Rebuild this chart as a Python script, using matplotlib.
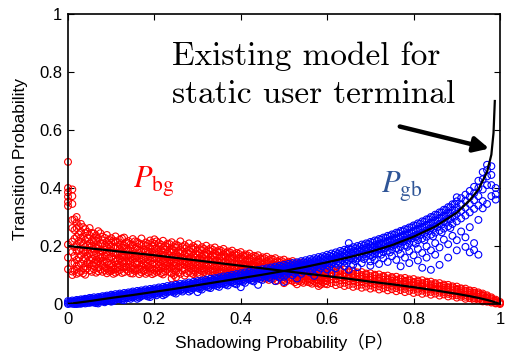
import matplotlib
matplotlib.use('Agg')
import matplotlib.pyplot as plt
import numpy as np

# measured P_bg samples, grouped by shadowing probability
pbg_cols = [
    (0.00, [0.490, 0.400, 0.385, 0.370, 0.352, 0.338, 0.205, 0.160, 0.120]),
    (0.01, [0.395, 0.372, 0.345, 0.290, 0.262, 0.215, 0.180, 0.140, 0.112, 0.100]),
    (0.02, [0.300, 0.281, 0.262, 0.231, 0.204, 0.183, 0.152, 0.131, 0.121, 0.104]),
    (0.03, [0.276, 0.249, 0.229, 0.214, 0.191, 0.168, 0.139, 0.112]),
    (0.04, [0.258, 0.244, 0.220, 0.197, 0.179, 0.158, 0.129, 0.118, 0.101]),
    (0.05, [0.262, 0.236, 0.209, 0.195, 0.173, 0.151, 0.138, 0.116]),
    (0.06, [0.243, 0.228, 0.214, 0.188, 0.169, 0.142, 0.131, 0.120]),
    (0.07, [0.251, 0.226, 0.203, 0.191, 0.164, 0.146, 0.125, 0.113]),
    (0.08, [0.232, 0.219, 0.207, 0.182, 0.161, 0.149, 0.133, 0.111]),
    (0.09, [0.238, 0.214, 0.196, 0.178, 0.170, 0.143, 0.122, 0.106]),
    (0.10, [0.227, 0.211, 0.199, 0.184, 0.163, 0.139, 0.127, 0.114]),
    (0.11, [0.233, 0.216, 0.192, 0.175, 0.157, 0.146, 0.121, 0.108]),
    (0.12, [0.222, 0.205, 0.188, 0.179, 0.154, 0.134, 0.117]),
    (0.13, [0.229, 0.201, 0.193, 0.171, 0.160, 0.141, 0.125, 0.110]),
    (0.14, [0.217, 0.209, 0.185, 0.167, 0.150, 0.136, 0.113]),
    (0.15, [0.224, 0.203, 0.181, 0.173, 0.155, 0.130, 0.119, 0.105]),
    (0.16, [0.214, 0.197, 0.187, 0.164, 0.147, 0.138, 0.116]),
    (0.17, [0.226, 0.206, 0.179, 0.169, 0.152, 0.128, 0.109]),
    (0.18, [0.212, 0.200, 0.183, 0.161, 0.144, 0.133, 0.120, 0.104]),
    (0.19, [0.219, 0.194, 0.176, 0.166, 0.149, 0.125, 0.112]),
    (0.20, [0.223, 0.207, 0.189, 0.171, 0.157, 0.140, 0.118, 0.107]),
    (0.21, [0.210, 0.198, 0.181, 0.163, 0.146, 0.131, 0.115]),
    (0.22, [0.218, 0.192, 0.177, 0.168, 0.151, 0.127, 0.110, 0.102]),
    (0.23, [0.208, 0.196, 0.174, 0.159, 0.143, 0.135, 0.119]),
    (0.24, [0.213, 0.189, 0.180, 0.162, 0.148, 0.126, 0.106, 0.088]),
    (0.25, [0.205, 0.194, 0.171, 0.155, 0.139, 0.122, 0.113, 0.092]),
    (0.26, [0.216, 0.186, 0.176, 0.160, 0.145, 0.130, 0.104]),
    (0.27, [0.203, 0.191, 0.169, 0.152, 0.136, 0.120, 0.098]),
    (0.28, [0.209, 0.184, 0.173, 0.157, 0.141, 0.127, 0.111]),
    (0.29, [0.200, 0.188, 0.166, 0.150, 0.134, 0.116, 0.103]),
    (0.30, [0.206, 0.181, 0.170, 0.154, 0.138, 0.124, 0.108, 0.097]),
    (0.31, [0.196, 0.185, 0.163, 0.147, 0.131, 0.114]),
    (0.32, [0.201, 0.177, 0.167, 0.151, 0.136, 0.121, 0.105]),
    (0.33, [0.192, 0.182, 0.160, 0.144, 0.129, 0.112]),
    (0.34, [0.195, 0.174, 0.163, 0.148, 0.133, 0.118, 0.101]),
    (0.35, [0.186, 0.178, 0.157, 0.141, 0.126, 0.109]),
    (0.36, [0.190, 0.170, 0.160, 0.145, 0.130, 0.115, 0.100]),
    (0.37, [0.181, 0.173, 0.154, 0.138, 0.123, 0.107]),
    (0.38, [0.184, 0.166, 0.156, 0.142, 0.127, 0.112, 0.098]),
    (0.39, [0.176, 0.168, 0.150, 0.135, 0.120, 0.104]),
    (0.40, [0.179, 0.161, 0.152, 0.138, 0.124, 0.109, 0.096]),
    (0.41, [0.171, 0.163, 0.146, 0.131, 0.117, 0.101]),
    (0.42, [0.174, 0.156, 0.148, 0.134, 0.120, 0.106, 0.094]),
    (0.43, [0.166, 0.158, 0.142, 0.128, 0.114, 0.099]),
    (0.44, [0.168, 0.151, 0.144, 0.130, 0.117, 0.103, 0.091]),
    (0.45, [0.161, 0.153, 0.138, 0.124, 0.111, 0.096]),
    (0.46, [0.163, 0.147, 0.139, 0.126, 0.113, 0.100, 0.088]),
    (0.47, [0.156, 0.148, 0.134, 0.121, 0.108, 0.093]),
    (0.48, [0.158, 0.142, 0.135, 0.122, 0.110, 0.097, 0.079]),
    (0.49, [0.151, 0.143, 0.130, 0.117, 0.105, 0.090]),
    (0.50, [0.153, 0.138, 0.131, 0.119, 0.106, 0.094, 0.083, 0.072]),
    (0.51, [0.146, 0.139, 0.126, 0.114, 0.101, 0.087]),
    (0.52, [0.148, 0.133, 0.127, 0.115, 0.103, 0.091, 0.080]),
    (0.53, [0.141, 0.135, 0.122, 0.110, 0.098, 0.084, 0.068]),
    (0.54, [0.143, 0.129, 0.123, 0.111, 0.100, 0.088, 0.077]),
    (0.55, [0.136, 0.130, 0.118, 0.107, 0.095, 0.081]),
    (0.56, [0.138, 0.124, 0.119, 0.108, 0.096, 0.085, 0.074]),
    (0.57, [0.131, 0.126, 0.114, 0.103, 0.092, 0.078]),
    (0.58, [0.133, 0.120, 0.115, 0.104, 0.093, 0.082, 0.071, 0.062]),
    (0.59, [0.127, 0.121, 0.110, 0.099, 0.088, 0.075]),
    (0.60, [0.128, 0.116, 0.111, 0.100, 0.090, 0.079, 0.068]),
    (0.61, [0.122, 0.117, 0.106, 0.096, 0.085, 0.072]),
    (0.62, [0.124, 0.112, 0.107, 0.097, 0.086, 0.076, 0.065]),
    (0.63, [0.118, 0.113, 0.102, 0.092, 0.082, 0.069]),
    (0.64, [0.119, 0.108, 0.103, 0.093, 0.083, 0.073, 0.062]),
    (0.65, [0.113, 0.109, 0.098, 0.089, 0.079, 0.066]),
    (0.66, [0.115, 0.104, 0.099, 0.089, 0.080, 0.070, 0.059]),
    (0.67, [0.109, 0.105, 0.094, 0.085, 0.076, 0.063]),
    (0.68, [0.110, 0.100, 0.095, 0.086, 0.076, 0.067, 0.056]),
    (0.69, [0.105, 0.101, 0.091, 0.082, 0.073, 0.060]),
    (0.70, [0.106, 0.096, 0.091, 0.082, 0.073, 0.064, 0.053]),
    (0.71, [0.101, 0.097, 0.087, 0.078, 0.069, 0.057]),
    (0.72, [0.102, 0.092, 0.088, 0.079, 0.070, 0.061, 0.050]),
    (0.73, [0.097, 0.093, 0.083, 0.075, 0.066, 0.054]),
    (0.74, [0.098, 0.088, 0.084, 0.075, 0.067, 0.058, 0.047]),
    (0.75, [0.093, 0.089, 0.080, 0.072, 0.063, 0.051]),
    (0.76, [0.094, 0.084, 0.080, 0.072, 0.063, 0.055, 0.044]),
    (0.77, [0.089, 0.085, 0.076, 0.068, 0.060, 0.048]),
    (0.78, [0.090, 0.080, 0.076, 0.068, 0.060, 0.052, 0.041]),
    (0.79, [0.085, 0.081, 0.072, 0.065, 0.057, 0.045]),
    (0.80, [0.086, 0.076, 0.072, 0.065, 0.057, 0.049, 0.038]),
    (0.81, [0.081, 0.077, 0.069, 0.061, 0.053, 0.042]),
    (0.82, [0.082, 0.072, 0.068, 0.061, 0.053, 0.046, 0.035]),
    (0.83, [0.077, 0.073, 0.065, 0.057, 0.050, 0.039]),
    (0.84, [0.077, 0.068, 0.064, 0.057, 0.050, 0.042, 0.032]),
    (0.85, [0.072, 0.068, 0.060, 0.053, 0.046, 0.036]),
    (0.86, [0.072, 0.063, 0.060, 0.053, 0.046, 0.039, 0.029]),
    (0.87, [0.067, 0.063, 0.056, 0.049, 0.042, 0.033]),
    (0.88, [0.066, 0.058, 0.055, 0.048, 0.041, 0.035, 0.026]),
    (0.89, [0.061, 0.057, 0.050, 0.044, 0.037, 0.029]),
    (0.90, [0.060, 0.052, 0.049, 0.043, 0.036, 0.030, 0.022]),
    (0.91, [0.054, 0.051, 0.044, 0.038, 0.032, 0.025]),
    (0.92, [0.053, 0.046, 0.043, 0.037, 0.031, 0.025, 0.018]),
    (0.93, [0.047, 0.044, 0.038, 0.032, 0.026, 0.020]),
    (0.94, [0.045, 0.039, 0.036, 0.030, 0.025, 0.020, 0.014]),
    (0.95, [0.040, 0.036, 0.031, 0.025, 0.020, 0.015]),
    (0.96, [0.036, 0.031, 0.028, 0.023, 0.018, 0.013, 0.009]),
    (0.97, [0.030, 0.026, 0.021, 0.017, 0.012, 0.008]),
    (0.98, [0.023, 0.019, 0.016, 0.012, 0.008, 0.005]),
    (0.99, [0.015, 0.011, 0.008, 0.004, 0.002]),
    (1.00, [0.007, 0.003, 0.000]),
]

# second batch of P_bg runs (in between the first)
pbg_cols_b = [
    (0.015, [0.292, 0.255, 0.225, 0.196, 0.166, 0.141, 0.115]),
    (0.025, [0.268, 0.240, 0.218, 0.186, 0.160, 0.135, 0.108]),
    (0.035, [0.265, 0.232, 0.206, 0.184, 0.154, 0.124, 0.106]),
    (0.045, [0.249, 0.228, 0.203, 0.185, 0.166, 0.144, 0.123]),
    (0.055, [0.245, 0.219, 0.200, 0.178, 0.157, 0.134, 0.111]),
    (0.065, [0.236, 0.218, 0.195, 0.175, 0.153, 0.137, 0.108]),
    (0.075, [0.244, 0.209, 0.186, 0.170, 0.158, 0.140, 0.119]),
    (0.085, [0.228, 0.203, 0.187, 0.166, 0.145, 0.127, 0.116]),
    (0.095, [0.221, 0.204, 0.181, 0.157, 0.136, 0.118, 0.112]),
    (0.105, [0.219, 0.195, 0.176, 0.155, 0.131, 0.120, 0.104]),
    (0.115, [0.214, 0.197, 0.170, 0.150, 0.138, 0.126, 0.113]),
    (0.125, [0.226, 0.194, 0.173, 0.163, 0.145, 0.127, 0.107]),
    (0.135, [0.213, 0.189, 0.182, 0.164, 0.148, 0.129, 0.119]),
    (0.145, [0.206, 0.192, 0.171, 0.160, 0.143, 0.124, 0.106]),
    (0.155, [0.216, 0.190, 0.167, 0.159, 0.141, 0.122, 0.114]),
    (0.165, [0.209, 0.184, 0.177, 0.157, 0.140, 0.121, 0.103]),
    (0.175, [0.203, 0.187, 0.165, 0.154, 0.136, 0.117, 0.113]),
    (0.185, [0.207, 0.181, 0.173, 0.155, 0.138, 0.128, 0.109]),
    (0.195, [0.211, 0.199, 0.180, 0.160, 0.137, 0.121, 0.103]),
    (0.205, [0.216, 0.193, 0.174, 0.153, 0.136, 0.124, 0.111]),
    (0.215, [0.205, 0.185, 0.170, 0.156, 0.138, 0.122, 0.106]),
    (0.225, [0.201, 0.188, 0.165, 0.146, 0.131, 0.113]),
    (0.235, [0.207, 0.180, 0.168, 0.152, 0.140, 0.123, 0.110]),
    (0.245, [0.198, 0.184, 0.165, 0.144, 0.132, 0.117, 0.100]),
    (0.255, [0.201, 0.178, 0.163, 0.150, 0.128, 0.108]),
    (0.265, [0.197, 0.181, 0.160, 0.141, 0.124, 0.115]),
    (0.275, [0.196, 0.175, 0.162, 0.145, 0.131, 0.106]),
    (0.285, [0.193, 0.179, 0.158, 0.137, 0.121, 0.107]),
    (0.295, [0.194, 0.172, 0.160, 0.143, 0.126, 0.112]),
    (0.305, [0.189, 0.175, 0.156, 0.134, 0.117, 0.102]),
    (0.315, [0.190, 0.170, 0.154, 0.139, 0.122, 0.110]),
    (0.325, [0.185, 0.172, 0.152, 0.132, 0.115, 0.099]),
    (0.335, [0.187, 0.166, 0.151, 0.137, 0.120, 0.107]),
    (0.345, [0.181, 0.168, 0.149, 0.128, 0.112, 0.097]),
    (0.355, [0.183, 0.163, 0.147, 0.133, 0.117, 0.104]),
    (0.365, [0.176, 0.164, 0.145, 0.125, 0.109, 0.095]),
    (0.375, [0.178, 0.158, 0.143, 0.129, 0.114, 0.101]),
    (0.385, [0.171, 0.160, 0.141, 0.122, 0.107, 0.093]),
    (0.395, [0.173, 0.154, 0.139, 0.126, 0.111, 0.098]),
    (0.405, [0.166, 0.155, 0.137, 0.119, 0.104, 0.091]),
    (0.415, [0.168, 0.150, 0.135, 0.122, 0.108, 0.095]),
    (0.425, [0.161, 0.151, 0.133, 0.116, 0.101, 0.089]),
    (0.435, [0.163, 0.145, 0.131, 0.119, 0.105, 0.092]),
    (0.445, [0.156, 0.146, 0.129, 0.113, 0.099, 0.086]),
    (0.455, [0.158, 0.141, 0.128, 0.116, 0.102, 0.090]),
    (0.465, [0.151, 0.142, 0.125, 0.110, 0.096, 0.083]),
    (0.475, [0.153, 0.136, 0.124, 0.112, 0.099, 0.087]),
    (0.485, [0.146, 0.137, 0.121, 0.107, 0.093, 0.081]),
    (0.495, [0.148, 0.132, 0.120, 0.109, 0.096, 0.084]),
    (0.505, [0.141, 0.133, 0.117, 0.104, 0.090, 0.078]),
    (0.515, [0.143, 0.127, 0.116, 0.106, 0.093, 0.082]),
    (0.525, [0.137, 0.129, 0.113, 0.101, 0.088, 0.075]),
    (0.535, [0.138, 0.123, 0.112, 0.102, 0.090, 0.079]),
    (0.545, [0.132, 0.124, 0.109, 0.097, 0.085, 0.073]),
    (0.555, [0.134, 0.118, 0.108, 0.099, 0.087, 0.076]),
    (0.565, [0.127, 0.120, 0.105, 0.094, 0.082, 0.070]),
    (0.575, [0.129, 0.114, 0.104, 0.095, 0.084, 0.073]),
    (0.585, [0.123, 0.116, 0.101, 0.091, 0.079, 0.067]),
    (0.595, [0.124, 0.110, 0.100, 0.092, 0.081, 0.070]),
]

# measured P_gb samples
pgb_cols = [
    (0.00, [0.010, 0.004, 0.000]),
    (0.01, [0.012, 0.007, 0.001]),
    (0.02, [0.014, 0.009, 0.003, 0.000]),
    (0.03, [0.016, 0.011, 0.005, 0.001]),
    (0.04, [0.018, 0.012, 0.007, 0.002]),
    (0.05, [0.021, 0.015, 0.009, 0.004]),
    (0.06, [0.023, 0.017, 0.011, 0.005]),
    (0.07, [0.024, 0.019, 0.013, 0.007, 0.002]),
    (0.08, [0.027, 0.021, 0.015, 0.009]),
    (0.09, [0.029, 0.023, 0.017, 0.011]),
    (0.10, [0.032, 0.026, 0.019, 0.013, 0.008]),
    (0.11, [0.034, 0.027, 0.021, 0.015]),
    (0.12, [0.036, 0.030, 0.024, 0.017]),
    (0.13, [0.038, 0.031, 0.026, 0.019, 0.013]),
    (0.14, [0.040, 0.034, 0.028, 0.021]),
    (0.15, [0.043, 0.036, 0.030, 0.023]),
    (0.16, [0.045, 0.038, 0.032, 0.025, 0.018]),
    (0.17, [0.047, 0.041, 0.034, 0.027]),
    (0.18, [0.050, 0.043, 0.036, 0.029]),
    (0.19, [0.052, 0.045, 0.039, 0.031, 0.024]),
    (0.20, [0.054, 0.047, 0.041, 0.034]),
    (0.21, [0.057, 0.050, 0.043, 0.036]),
    (0.22, [0.059, 0.052, 0.045, 0.038, 0.030]),
    (0.23, [0.062, 0.054, 0.048, 0.040]),
    (0.24, [0.064, 0.057, 0.050, 0.043]),
    (0.25, [0.066, 0.059, 0.052, 0.045, 0.036]),
    (0.26, [0.069, 0.061, 0.055, 0.047]),
    (0.27, [0.071, 0.064, 0.057, 0.049]),
    (0.28, [0.074, 0.066, 0.059, 0.052, 0.043]),
    (0.29, [0.076, 0.069, 0.062, 0.054]),
    (0.30, [0.079, 0.071, 0.064, 0.056, 0.041]),
    (0.31, [0.081, 0.074, 0.066, 0.059, 0.050]),
    (0.32, [0.084, 0.076, 0.069, 0.061]),
    (0.33, [0.087, 0.079, 0.071, 0.063, 0.055]),
    (0.34, [0.089, 0.081, 0.074, 0.066]),
    (0.35, [0.092, 0.084, 0.076, 0.068, 0.059]),
    (0.36, [0.095, 0.087, 0.079, 0.071]),
    (0.37, [0.097, 0.089, 0.081, 0.073, 0.064]),
    (0.38, [0.100, 0.092, 0.084, 0.075]),
    (0.39, [0.103, 0.094, 0.086, 0.078, 0.068]),
    (0.40, [0.106, 0.097, 0.089, 0.080, 0.058]),
    (0.41, [0.109, 0.100, 0.091, 0.083, 0.073]),
    (0.42, [0.112, 0.103, 0.094, 0.085]),
    (0.43, [0.114, 0.105, 0.097, 0.088, 0.078]),
    (0.44, [0.117, 0.108, 0.099, 0.090, 0.066]),
    (0.45, [0.120, 0.111, 0.102, 0.093, 0.083]),
    (0.46, [0.123, 0.114, 0.105, 0.095]),
    (0.47, [0.126, 0.116, 0.107, 0.098, 0.087]),
    (0.48, [0.129, 0.119, 0.110, 0.100, 0.079]),
    (0.49, [0.132, 0.122, 0.113, 0.103, 0.092]),
    (0.50, [0.135, 0.125, 0.115, 0.105, 0.094, 0.076]),
    (0.51, [0.138, 0.128, 0.118, 0.108]),
    (0.52, [0.141, 0.131, 0.121, 0.111, 0.099]),
    (0.53, [0.144, 0.134, 0.124, 0.113, 0.088]),
    (0.54, [0.148, 0.137, 0.127, 0.116, 0.104]),
    (0.55, [0.151, 0.140, 0.130, 0.119]),
    (0.56, [0.155, 0.144, 0.133, 0.122, 0.109]),
    (0.57, [0.158, 0.147, 0.136, 0.125, 0.097]),
    (0.58, [0.162, 0.150, 0.139, 0.128, 0.114]),
    (0.59, [0.165, 0.154, 0.142, 0.131]),
    (0.60, [0.170, 0.158, 0.146, 0.134, 0.119]),
    (0.61, [0.174, 0.162, 0.149, 0.137, 0.105]),
    (0.62, [0.178, 0.165, 0.153, 0.140, 0.124]),
    (0.63, [0.183, 0.169, 0.156, 0.143]),
    (0.64, [0.187, 0.173, 0.160, 0.147, 0.130]),
    (0.65, [0.210, 0.191, 0.177, 0.163, 0.150, 0.118]),
    (0.66, [0.196, 0.181, 0.167, 0.153, 0.135]),
    (0.67, [0.200, 0.185, 0.171, 0.157, 0.127]),
    (0.68, [0.205, 0.190, 0.175, 0.160, 0.141]),
    (0.69, [0.209, 0.194, 0.179, 0.164]),
    (0.70, [0.214, 0.199, 0.183, 0.168, 0.147, 0.132]),
    (0.71, [0.219, 0.203, 0.187, 0.171, 0.152]),
    (0.72, [0.224, 0.208, 0.192, 0.175, 0.138]),
    (0.73, [0.229, 0.213, 0.196, 0.179, 0.158]),
    (0.74, [0.235, 0.218, 0.201, 0.184, 0.145]),
    (0.75, [0.240, 0.223, 0.206, 0.188, 0.165]),
    (0.76, [0.246, 0.229, 0.211, 0.193, 0.152]),
    (0.77, [0.252, 0.234, 0.216, 0.198, 0.173, 0.130]),
    (0.78, [0.258, 0.240, 0.222, 0.203, 0.160]),
    (0.79, [0.264, 0.246, 0.228, 0.209, 0.182, 0.141]),
    (0.80, [0.271, 0.253, 0.234, 0.214, 0.168]),
    (0.81, [0.278, 0.259, 0.240, 0.220, 0.190, 0.150]),
    (0.82, [0.285, 0.266, 0.247, 0.226, 0.176, 0.125]),
    (0.83, [0.292, 0.273, 0.254, 0.232, 0.199, 0.160]),
    (0.84, [0.300, 0.281, 0.261, 0.239, 0.185, 0.118]),
    (0.85, [0.308, 0.289, 0.268, 0.246, 0.210, 0.170]),
    (0.86, [0.316, 0.297, 0.276, 0.253, 0.195, 0.135]),
    (0.87, [0.325, 0.305, 0.284, 0.260, 0.222]),
    (0.88, [0.334, 0.314, 0.293, 0.268, 0.206, 0.160]),
    (0.89, [0.344, 0.323, 0.302, 0.276, 0.235]),
    (0.90, [0.368, 0.354, 0.333, 0.311, 0.285, 0.220, 0.185]),
    (0.91, [0.365, 0.344, 0.321, 0.295, 0.250]),
    (0.92, [0.377, 0.356, 0.332, 0.305, 0.230, 0.197]),
    (0.93, [0.390, 0.369, 0.345, 0.316, 0.265, 0.178]),
    (0.94, [0.404, 0.382, 0.358, 0.328, 0.210, 0.186]),
    (0.95, [0.425, 0.400, 0.372, 0.340, 0.290, 0.170]),
    (0.96, [0.455, 0.430, 0.395, 0.355, 0.330]),
    (0.97, [0.480, 0.462, 0.440, 0.410, 0.345]),
    (0.98, [0.475, 0.445, 0.410, 0.372]),
    (0.99, [0.400, 0.378, 0.360]),
]

# second batch of P_gb runs
pgb_cols_b = [
    (0.005, [0.007, 0.002]),
    (0.015, [0.010, 0.004, 0.000]),
    (0.025, [0.012, 0.006, 0.001]),
    (0.035, [0.015, 0.008, 0.003]),
    (0.045, [0.017, 0.010, 0.004]),
    (0.055, [0.019, 0.012, 0.006]),
    (0.065, [0.020, 0.014, 0.008, 0.003]),
    (0.075, [0.023, 0.016, 0.010]),
    (0.085, [0.025, 0.018, 0.012, 0.006]),
    (0.095, [0.027, 0.020, 0.014]),
    (0.105, [0.029, 0.022, 0.016, 0.010]),
    (0.115, [0.031, 0.024, 0.018]),
    (0.125, [0.033, 0.027, 0.020, 0.014]),
    (0.135, [0.035, 0.029, 0.022]),
    (0.145, [0.038, 0.031, 0.025, 0.018]),
    (0.155, [0.040, 0.033, 0.027]),
    (0.165, [0.042, 0.035, 0.029, 0.022]),
    (0.175, [0.044, 0.037, 0.031]),
    (0.185, [0.046, 0.040, 0.033, 0.026]),
    (0.195, [0.049, 0.042, 0.035]),
    (0.205, [0.051, 0.044, 0.037, 0.030]),
    (0.215, [0.053, 0.046, 0.040]),
    (0.225, [0.056, 0.049, 0.042, 0.034]),
    (0.235, [0.058, 0.051, 0.044]),
    (0.245, [0.060, 0.053, 0.046, 0.039]),
    (0.255, [0.063, 0.056, 0.049]),
    (0.265, [0.065, 0.058, 0.051, 0.043]),
    (0.275, [0.068, 0.060, 0.053]),
    (0.285, [0.070, 0.063, 0.056, 0.048]),
    (0.295, [0.073, 0.065, 0.058]),
    (0.305, [0.075, 0.068, 0.060, 0.052]),
    (0.315, [0.078, 0.070, 0.063]),
    (0.325, [0.080, 0.073, 0.065, 0.057]),
    (0.335, [0.083, 0.075, 0.068]),
    (0.345, [0.086, 0.078, 0.070, 0.062]),
    (0.355, [0.088, 0.080, 0.072]),
    (0.365, [0.091, 0.083, 0.075, 0.067]),
    (0.375, [0.094, 0.086, 0.077]),
    (0.385, [0.096, 0.088, 0.080, 0.071]),
    (0.395, [0.099, 0.091, 0.082]),
    (0.405, [0.102, 0.093, 0.085, 0.076]),
    (0.415, [0.105, 0.096, 0.087]),
    (0.425, [0.108, 0.099, 0.090, 0.081]),
    (0.435, [0.110, 0.101, 0.093]),
    (0.445, [0.113, 0.104, 0.095, 0.086]),
    (0.455, [0.116, 0.107, 0.098]),
    (0.465, [0.119, 0.110, 0.101, 0.091]),
    (0.475, [0.122, 0.113, 0.103]),
    (0.485, [0.125, 0.116, 0.106, 0.096]),
    (0.495, [0.128, 0.119, 0.109]),
    (0.505, [0.131, 0.121, 0.111, 0.101]),
    (0.515, [0.134, 0.124, 0.114]),
    (0.525, [0.137, 0.127, 0.117, 0.106]),
    (0.535, [0.140, 0.130, 0.120]),
    (0.545, [0.144, 0.133, 0.123, 0.112]),
    (0.555, [0.147, 0.137, 0.126]),
    (0.565, [0.151, 0.140, 0.129, 0.117]),
    (0.575, [0.154, 0.143, 0.132]),
    (0.585, [0.158, 0.147, 0.135, 0.123]),
    (0.595, [0.162, 0.150, 0.138]),
    (0.605, [0.166, 0.154, 0.142, 0.129]),
    (0.615, [0.170, 0.157, 0.145]),
    (0.625, [0.174, 0.161, 0.148, 0.135]),
    (0.635, [0.179, 0.165, 0.152]),
    (0.645, [0.183, 0.169, 0.155, 0.141]),
    (0.655, [0.188, 0.174, 0.159]),
    (0.665, [0.192, 0.178, 0.163, 0.148]),
    (0.675, [0.197, 0.182, 0.167]),
    (0.685, [0.202, 0.187, 0.171, 0.155]),
    (0.695, [0.207, 0.191, 0.175]),
    (0.705, [0.212, 0.196, 0.180, 0.162]),
    (0.715, [0.217, 0.201, 0.184]),
    (0.725, [0.222, 0.206, 0.189, 0.170]),
    (0.735, [0.228, 0.211, 0.193]),
    (0.745, [0.233, 0.216, 0.198, 0.178]),
    (0.755, [0.239, 0.222, 0.203]),
    (0.765, [0.245, 0.227, 0.209, 0.187]),
    (0.775, [0.251, 0.233, 0.214]),
    (0.785, [0.257, 0.239, 0.220, 0.197]),
    (0.795, [0.264, 0.245, 0.226]),
    (0.805, [0.270, 0.252, 0.232, 0.208]),
    (0.815, [0.277, 0.258, 0.238]),
    (0.825, [0.284, 0.265, 0.245, 0.220]),
    (0.835, [0.292, 0.272, 0.252]),
    (0.845, [0.299, 0.280, 0.259, 0.233]),
    (0.855, [0.307, 0.288, 0.266]),
    (0.865, [0.316, 0.296, 0.274, 0.247]),
    (0.875, [0.324, 0.304, 0.283]),
    (0.885, [0.334, 0.313, 0.292, 0.262]),
    (0.895, [0.344, 0.323, 0.301]),
]

# existing model for a static user terminal
model_x = [0.00, 0.05, 0.10, 0.15, 0.20, 0.25, 0.30, 0.35, 0.40, 0.45, 0.50,
           0.55, 0.60, 0.65, 0.70, 0.75, 0.80, 0.85, 0.90, 0.93, 0.95, 0.97,
           0.98, 0.985, 0.988]
model_gb = [0.000, 0.010, 0.021, 0.031, 0.042, 0.053, 0.065, 0.077, 0.089, 0.101, 0.114,
            0.128, 0.144, 0.161, 0.180, 0.203, 0.232, 0.267, 0.315, 0.358, 0.395, 0.455,
            0.515, 0.590, 0.700]
model_bg_x = [0.00, 0.05, 0.10, 0.15, 0.20, 0.25, 0.30, 0.35, 0.40, 0.45, 0.50,
              0.55, 0.60, 0.65, 0.70, 0.75, 0.80, 0.85, 0.90, 0.93, 0.95, 0.97,
              0.98, 0.99, 1.00]
model_bg = [0.200, 0.192, 0.184, 0.176, 0.168, 0.159, 0.150, 0.141, 0.132, 0.123, 0.114,
            0.105, 0.096, 0.087, 0.077, 0.068, 0.058, 0.047, 0.035, 0.027, 0.021, 0.014,
            0.010, 0.005, 0.000]

ticks = [0, 0.2, 0.4, 0.6, 0.8, 1]
tick_labels = ['0', '0.2', '0.4', '0.6', '0.8', '1']


def flatten(cols):
    xs, ys = [], []
    for x, vals in cols:
        xs += [x] * len(vals)
        ys += vals
    return np.array(xs), np.array(ys)


plt.rcParams['font.family'] = ['Liberation Sans', 'DejaVu Sans']
plt.rcParams['mathtext.fontset'] = 'stix'

fig = plt.figure(figsize=(5.26, 3.52), dpi=100)
ax = fig.add_axes([68 / 526, 48 / 352, 432 / 526, 290 / 352])

bx, by = flatten(pbg_cols + pbg_cols_b)
gx, gy = flatten(pgb_cols + pgb_cols_b)
ax.scatter(bx, by, s=24, facecolors='none', edgecolors='#ff0000', linewidths=0.8, clip_on=False, zorder=2)
ax.scatter(gx, gy, s=24, facecolors='none', edgecolors='#0000ff', linewidths=0.8, clip_on=False, zorder=3)

ax.plot(model_bg_x, model_bg, color='black', lw=1.6, zorder=4)
ax.plot(model_x, model_gb, color='black', lw=1.6, zorder=4)

ax.set_xlim(0, 1)
ax.set_ylim(0, 1)
ax.set_xticks(ticks)
ax.set_xticklabels(tick_labels)
ax.set_yticks(ticks)
ax.set_yticklabels(tick_labels)
ax.tick_params(direction='in', length=4, width=0.8, top=True, right=True, labelsize=12)
ax.tick_params(axis='x', pad=6)
ax.tick_params(axis='y', pad=4)
for sp in ax.spines.values():
    sp.set_linewidth(1.2)

ax.set_ylabel('Transition Probability', fontsize=12.5, labelpad=8)
ax.set_xlabel('Shadowing Probability（P）', fontsize=12.5, labelpad=4,
              family=['Liberation Sans', 'Noto Sans CJK JP'])

ax.text(0.241, 0.824, 'Existing model for', family='cmr10', fontsize=24, va='baseline')
ax.text(0.241, 0.693, 'static user terminal', family='cmr10', fontsize=24, va='baseline')
ax.annotate('', xy=(0.975, 0.536), xytext=(0.768, 0.612),
            arrowprops=dict(arrowstyle='-|>,head_length=0.9,head_width=0.45',
                            lw=3.2, color='black', shrinkA=0, shrinkB=0))

ax.text(0.150, 0.40, r'$P_{\mathrm{bg}}$', color='#ff0000', fontsize=22, va='baseline')
ax.text(0.725, 0.385, r'$P_{\mathrm{gb}}$', color='#2f5597', fontsize=22, va='baseline')

fig.savefig('out.png', dpi=100)
